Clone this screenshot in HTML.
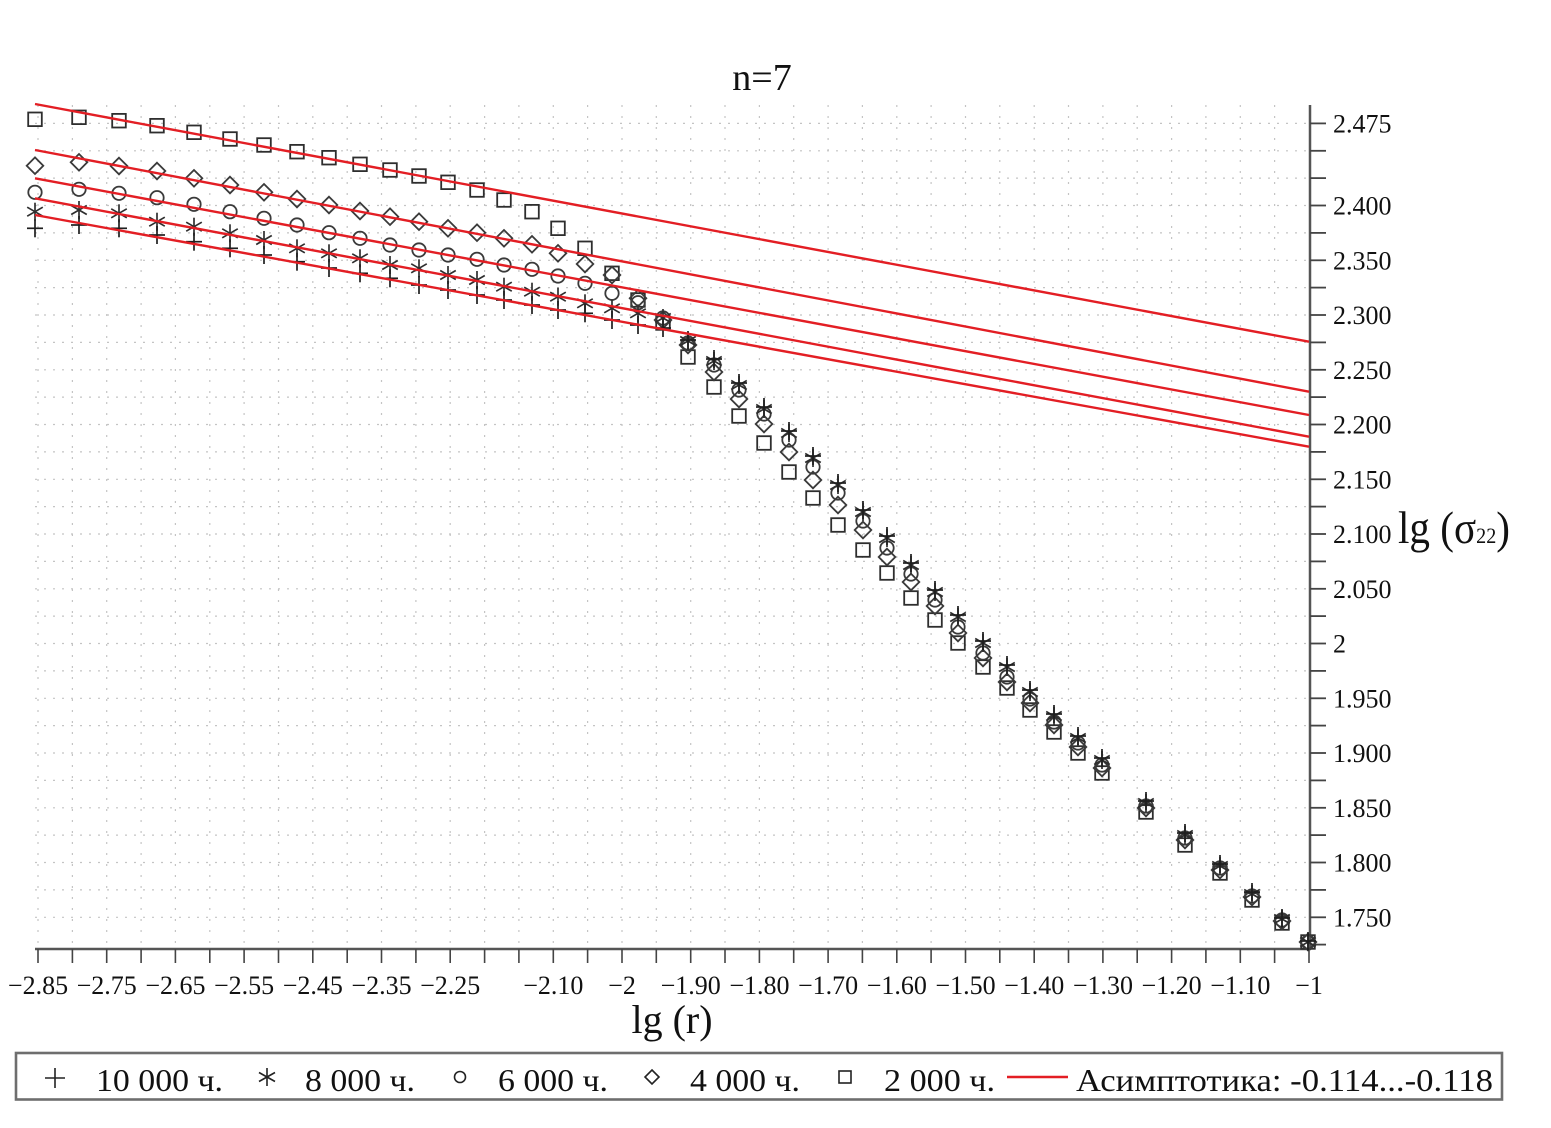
<!DOCTYPE html>
<html>
<head>
<meta charset="utf-8">
<style>
html,body{margin:0;padding:0;background:#fff;}
svg{display:block;font-family:"Liberation Serif","Noto Serif CJK SC",serif;}
text{font-family:"Liberation Serif","Noto Serif CJK SC",serif;fill:#111;}
</style>
</head>
<body>
<svg width="1551" height="1128" viewBox="0 0 1551 1128" xmlns="http://www.w3.org/2000/svg" font-family="Liberation Serif, serif">
<defs>
  <g id="sq"><rect x="-6.8" y="-6.8" width="13.6" height="13.6" fill="none" stroke="#2e2e2e" stroke-width="1.8"/></g>
  <g id="di"><path d="M0,-8.3 L8.3,0 L0,8.3 L-8.3,0 Z" fill="none" stroke="#3a3a3a" stroke-width="1.8"/></g>
  <g id="ci"><circle r="6.7" fill="none" stroke="#3a3a3a" stroke-width="1.8"/></g>
  <g id="st" stroke="#2e2e2e" stroke-width="1.7"><line x1="0" y1="-9" x2="0" y2="9"/><line x1="-7.8" y1="-4.5" x2="7.8" y2="4.5"/><line x1="-7.8" y1="4.5" x2="7.8" y2="-4.5"/></g>
  <g id="pl" stroke="#1e1e1e" stroke-width="1.7"><line x1="0" y1="-9" x2="0" y2="9"/><line x1="-8" y1="0" x2="8" y2="0"/></g>
</defs>

<!-- grid -->
<g stroke="#c4c4c4" stroke-width="1.2" stroke-dasharray="2,9">
<line x1="38" y1="105" x2="38" y2="949"/><line x1="72.4" y1="105" x2="72.4" y2="949"/><line x1="106.7" y1="105" x2="106.7" y2="949"/><line x1="141.1" y1="105" x2="141.1" y2="949"/><line x1="175.4" y1="105" x2="175.4" y2="949"/><line x1="209.8" y1="105" x2="209.8" y2="949"/><line x1="244.1" y1="105" x2="244.1" y2="949"/><line x1="278.5" y1="105" x2="278.5" y2="949"/><line x1="312.8" y1="105" x2="312.8" y2="949"/><line x1="347.2" y1="105" x2="347.2" y2="949"/><line x1="381.5" y1="105" x2="381.5" y2="949"/><line x1="415.9" y1="105" x2="415.9" y2="949"/><line x1="450.2" y1="105" x2="450.2" y2="949"/><line x1="484.6" y1="105" x2="484.6" y2="949"/><line x1="518.9" y1="105" x2="518.9" y2="949"/><line x1="553.3" y1="105" x2="553.3" y2="949"/><line x1="587.6" y1="105" x2="587.6" y2="949"/><line x1="622" y1="105" x2="622" y2="949"/><line x1="656.3" y1="105" x2="656.3" y2="949"/><line x1="690.7" y1="105" x2="690.7" y2="949"/><line x1="725" y1="105" x2="725" y2="949"/><line x1="759.4" y1="105" x2="759.4" y2="949"/><line x1="793.7" y1="105" x2="793.7" y2="949"/><line x1="828.1" y1="105" x2="828.1" y2="949"/><line x1="862.4" y1="105" x2="862.4" y2="949"/><line x1="896.8" y1="105" x2="896.8" y2="949"/><line x1="931.1" y1="105" x2="931.1" y2="949"/><line x1="965.5" y1="105" x2="965.5" y2="949"/><line x1="999.8" y1="105" x2="999.8" y2="949"/><line x1="1034.2" y1="105" x2="1034.2" y2="949"/><line x1="1068.5" y1="105" x2="1068.5" y2="949"/><line x1="1102.9" y1="105" x2="1102.9" y2="949"/><line x1="1137.2" y1="105" x2="1137.2" y2="949"/><line x1="1171.6" y1="105" x2="1171.6" y2="949"/><line x1="1205.9" y1="105" x2="1205.9" y2="949"/><line x1="1240.3" y1="105" x2="1240.3" y2="949"/><line x1="1274.6" y1="105" x2="1274.6" y2="949"/>
</g>
<g stroke="#c4c4c4" stroke-width="1.2" stroke-dasharray="2,7">
<line x1="35" y1="123.4" x2="1310" y2="123.4"/><line x1="35" y1="150.8" x2="1310" y2="150.8"/><line x1="35" y1="178.1" x2="1310" y2="178.1"/><line x1="35" y1="205.5" x2="1310" y2="205.5"/><line x1="35" y1="232.9" x2="1310" y2="232.9"/><line x1="35" y1="260.3" x2="1310" y2="260.3"/><line x1="35" y1="287.6" x2="1310" y2="287.6"/><line x1="35" y1="315" x2="1310" y2="315"/><line x1="35" y1="342.4" x2="1310" y2="342.4"/><line x1="35" y1="369.8" x2="1310" y2="369.8"/><line x1="35" y1="397.1" x2="1310" y2="397.1"/><line x1="35" y1="424.5" x2="1310" y2="424.5"/><line x1="35" y1="451.9" x2="1310" y2="451.9"/><line x1="35" y1="479.3" x2="1310" y2="479.3"/><line x1="35" y1="506.6" x2="1310" y2="506.6"/><line x1="35" y1="534" x2="1310" y2="534"/><line x1="35" y1="561.4" x2="1310" y2="561.4"/><line x1="35" y1="588.8" x2="1310" y2="588.8"/><line x1="35" y1="616.1" x2="1310" y2="616.1"/><line x1="35" y1="643.5" x2="1310" y2="643.5"/><line x1="35" y1="670.9" x2="1310" y2="670.9"/><line x1="35" y1="698.3" x2="1310" y2="698.3"/><line x1="35" y1="725.6" x2="1310" y2="725.6"/><line x1="35" y1="753" x2="1310" y2="753"/><line x1="35" y1="780.4" x2="1310" y2="780.4"/><line x1="35" y1="807.8" x2="1310" y2="807.8"/><line x1="35" y1="835.1" x2="1310" y2="835.1"/><line x1="35" y1="862.5" x2="1310" y2="862.5"/><line x1="35" y1="889.9" x2="1310" y2="889.9"/><line x1="35" y1="917.3" x2="1310" y2="917.3"/>
</g>

<!-- axes -->
<g stroke="#555" stroke-width="2.5">
<line x1="35" y1="949" x2="1311" y2="949"/>
<line x1="1310" y1="105" x2="1310" y2="950"/>
</g>
<g stroke="#444" stroke-width="1.6">
<line x1="38" y1="949" x2="38" y2="963"/><line x1="72.4" y1="949" x2="72.4" y2="963"/><line x1="106.7" y1="949" x2="106.7" y2="963"/><line x1="141.1" y1="949" x2="141.1" y2="963"/><line x1="175.4" y1="949" x2="175.4" y2="963"/><line x1="209.8" y1="949" x2="209.8" y2="963"/><line x1="244.1" y1="949" x2="244.1" y2="963"/><line x1="278.5" y1="949" x2="278.5" y2="963"/><line x1="312.8" y1="949" x2="312.8" y2="963"/><line x1="347.2" y1="949" x2="347.2" y2="963"/><line x1="381.5" y1="949" x2="381.5" y2="963"/><line x1="415.9" y1="949" x2="415.9" y2="963"/><line x1="450.2" y1="949" x2="450.2" y2="963"/><line x1="484.6" y1="949" x2="484.6" y2="963"/><line x1="518.9" y1="949" x2="518.9" y2="963"/><line x1="553.3" y1="949" x2="553.3" y2="963"/><line x1="587.6" y1="949" x2="587.6" y2="963"/><line x1="622" y1="949" x2="622" y2="963"/><line x1="656.3" y1="949" x2="656.3" y2="963"/><line x1="690.7" y1="949" x2="690.7" y2="963"/><line x1="725" y1="949" x2="725" y2="963"/><line x1="759.4" y1="949" x2="759.4" y2="963"/><line x1="793.7" y1="949" x2="793.7" y2="963"/><line x1="828.1" y1="949" x2="828.1" y2="963"/><line x1="862.4" y1="949" x2="862.4" y2="963"/><line x1="896.8" y1="949" x2="896.8" y2="963"/><line x1="931.1" y1="949" x2="931.1" y2="963"/><line x1="965.5" y1="949" x2="965.5" y2="963"/><line x1="999.8" y1="949" x2="999.8" y2="963"/><line x1="1034.2" y1="949" x2="1034.2" y2="963"/><line x1="1068.5" y1="949" x2="1068.5" y2="963"/><line x1="1102.9" y1="949" x2="1102.9" y2="963"/><line x1="1137.2" y1="949" x2="1137.2" y2="963"/><line x1="1171.6" y1="949" x2="1171.6" y2="963"/><line x1="1205.9" y1="949" x2="1205.9" y2="963"/><line x1="1240.3" y1="949" x2="1240.3" y2="963"/><line x1="1274.6" y1="949" x2="1274.6" y2="963"/><line x1="1309" y1="949" x2="1309" y2="963"/>
</g>
<g stroke="#444" stroke-width="1.8">
<line x1="1310" y1="123.4" x2="1326" y2="123.4"/><line x1="1310" y1="150.8" x2="1326" y2="150.8"/><line x1="1310" y1="178.1" x2="1326" y2="178.1"/><line x1="1310" y1="205.5" x2="1326" y2="205.5"/><line x1="1310" y1="232.9" x2="1326" y2="232.9"/><line x1="1310" y1="260.3" x2="1326" y2="260.3"/><line x1="1310" y1="287.6" x2="1326" y2="287.6"/><line x1="1310" y1="315" x2="1326" y2="315"/><line x1="1310" y1="342.4" x2="1326" y2="342.4"/><line x1="1310" y1="369.8" x2="1326" y2="369.8"/><line x1="1310" y1="397.1" x2="1326" y2="397.1"/><line x1="1310" y1="424.5" x2="1326" y2="424.5"/><line x1="1310" y1="451.9" x2="1326" y2="451.9"/><line x1="1310" y1="479.3" x2="1326" y2="479.3"/><line x1="1310" y1="506.6" x2="1326" y2="506.6"/><line x1="1310" y1="534" x2="1326" y2="534"/><line x1="1310" y1="561.4" x2="1326" y2="561.4"/><line x1="1310" y1="588.8" x2="1326" y2="588.8"/><line x1="1310" y1="616.1" x2="1326" y2="616.1"/><line x1="1310" y1="643.5" x2="1326" y2="643.5"/><line x1="1310" y1="670.9" x2="1326" y2="670.9"/><line x1="1310" y1="698.3" x2="1326" y2="698.3"/><line x1="1310" y1="725.6" x2="1326" y2="725.6"/><line x1="1310" y1="753" x2="1326" y2="753"/><line x1="1310" y1="780.4" x2="1326" y2="780.4"/><line x1="1310" y1="807.8" x2="1326" y2="807.8"/><line x1="1310" y1="835.1" x2="1326" y2="835.1"/><line x1="1310" y1="862.5" x2="1326" y2="862.5"/><line x1="1310" y1="889.9" x2="1326" y2="889.9"/><line x1="1310" y1="917.3" x2="1326" y2="917.3"/><line x1="1310" y1="944.6" x2="1326" y2="944.6"/>
</g>

<!-- y tick labels -->
<g font-size="26" font-family="Liberation Serif, serif">
<text x="1333" y="132.4">2.475</text>
<text x="1333" y="214.5">2.400</text>
<text x="1333" y="269.3">2.350</text>
<text x="1333" y="324">2.300</text>
<text x="1333" y="378.8">2.250</text>
<text x="1333" y="433.5">2.200</text>
<text x="1333" y="488.3">2.150</text>
<text x="1333" y="543">2.100</text>
<text x="1333" y="597.8">2.050</text>
<text x="1333" y="652.5">2</text>
<text x="1333" y="707.3">1.950</text>
<text x="1333" y="762">1.900</text>
<text x="1333" y="816.8">1.850</text>
<text x="1333" y="871.5">1.800</text>
<text x="1333" y="926.3">1.750</text>
</g>

<!-- x tick labels -->
<g font-size="26" text-anchor="middle" font-family="Liberation Serif, serif">
<text x="38" y="994">−2.85</text>
<text x="106.7" y="994">−2.75</text>
<text x="175.4" y="994">−2.65</text>
<text x="244.1" y="994">−2.55</text>
<text x="312.8" y="994">−2.45</text>
<text x="381.5" y="994">−2.35</text>
<text x="450.2" y="994">−2.25</text>
<text x="553.3" y="994">−2.10</text>
<text x="622" y="994">−2</text>
<text x="690.7" y="994">−1.90</text>
<text x="759.4" y="994">−1.80</text>
<text x="828.1" y="994">−1.70</text>
<text x="896.8" y="994">−1.60</text>
<text x="965.5" y="994">−1.50</text>
<text x="1034.2" y="994">−1.40</text>
<text x="1102.9" y="994">−1.30</text>
<text x="1171.6" y="994">−1.20</text>
<text x="1240.3" y="994">−1.10</text>
<text x="1309" y="994">−1</text>
</g>

<!-- titles -->
<text x="762" y="90" font-size="38" text-anchor="middle" font-family="Liberation Serif, serif">n=7</text>
<text x="672" y="1033" font-size="40" text-anchor="middle" font-family="Liberation Serif, serif">lg (r)</text>
<text x="1398" y="543" font-size="45" textLength="112" lengthAdjust="spacingAndGlyphs" font-family="Liberation Serif, serif">lg (σ<tspan font-size="22">22</tspan>)</text>

<!-- markers: squares (2000) -->
<g>
<use href="#sq" x="35" y="119.3"/><use href="#sq" x="79" y="117.3"/><use href="#sq" x="119" y="120.7"/><use href="#sq" x="157" y="125.7"/><use href="#sq" x="194" y="132.3"/><use href="#sq" x="230" y="139"/><use href="#sq" x="264" y="145"/><use href="#sq" x="297" y="151.7"/><use href="#sq" x="329" y="157.7"/><use href="#sq" x="360" y="164.3"/><use href="#sq" x="390" y="170"/><use href="#sq" x="419" y="176"/><use href="#sq" x="448" y="182.3"/><use href="#sq" x="477" y="190"/><use href="#sq" x="504" y="200"/><use href="#sq" x="532" y="211.7"/><use href="#sq" x="558" y="228.3"/><use href="#sq" x="585" y="248.3"/><use href="#sq" x="612" y="273.3"/><use href="#sq" x="638" y="300"/><use href="#sq" x="663" y="323"/><use href="#sq" x="688" y="357"/><use href="#sq" x="714" y="387"/><use href="#sq" x="739" y="416"/><use href="#sq" x="764" y="443"/><use href="#sq" x="789" y="472"/><use href="#sq" x="813" y="498"/><use href="#sq" x="838" y="525"/><use href="#sq" x="863" y="550"/><use href="#sq" x="887" y="573"/><use href="#sq" x="911" y="598"/><use href="#sq" x="935" y="620"/><use href="#sq" x="958" y="643"/><use href="#sq" x="983" y="667"/><use href="#sq" x="1007" y="688"/><use href="#sq" x="1030" y="710"/><use href="#sq" x="1054" y="732"/><use href="#sq" x="1078" y="753"/><use href="#sq" x="1102" y="773"/><use href="#sq" x="1146" y="812"/><use href="#sq" x="1185" y="845"/><use href="#sq" x="1220" y="873"/><use href="#sq" x="1252" y="900"/><use href="#sq" x="1282" y="923"/><use href="#sq" x="1308" y="942"/>
</g>
<!-- diamonds (4000) -->
<g>
<use href="#di" x="35" y="165.7"/><use href="#di" x="79" y="162.3"/><use href="#di" x="119" y="166"/><use href="#di" x="157" y="171"/><use href="#di" x="194" y="178.3"/><use href="#di" x="230" y="185"/><use href="#di" x="264" y="192.3"/><use href="#di" x="297" y="199"/><use href="#di" x="329" y="205"/><use href="#di" x="360" y="211"/><use href="#di" x="390" y="216.7"/><use href="#di" x="419" y="221.7"/><use href="#di" x="448" y="228.3"/><use href="#di" x="477" y="232.7"/><use href="#di" x="504" y="238.3"/><use href="#di" x="532" y="244.3"/><use href="#di" x="558" y="253.3"/><use href="#di" x="585" y="264"/><use href="#di" x="612" y="275"/><use href="#di" x="638" y="298.3"/><use href="#di" x="663" y="320"/><use href="#di" x="688" y="345"/><use href="#di" x="714" y="372"/><use href="#di" x="739" y="399"/><use href="#di" x="764" y="424"/><use href="#di" x="789" y="452"/><use href="#di" x="813" y="480"/><use href="#di" x="838" y="505"/><use href="#di" x="863" y="530"/><use href="#di" x="887" y="557"/><use href="#di" x="911" y="582"/><use href="#di" x="935" y="606"/><use href="#di" x="958" y="633"/><use href="#di" x="983" y="658"/><use href="#di" x="1007" y="682"/><use href="#di" x="1030" y="703"/><use href="#di" x="1054" y="725"/><use href="#di" x="1078" y="747"/><use href="#di" x="1102" y="768"/><use href="#di" x="1146" y="808"/><use href="#di" x="1185" y="840"/><use href="#di" x="1220" y="870"/><use href="#di" x="1252" y="897"/><use href="#di" x="1282" y="921"/><use href="#di" x="1308" y="942"/>
</g>
<!-- circles (6000) -->
<g>
<use href="#ci" x="35" y="192.3"/><use href="#ci" x="79" y="189.3"/><use href="#ci" x="119" y="193.3"/><use href="#ci" x="157" y="197.7"/><use href="#ci" x="194" y="204.3"/><use href="#ci" x="230" y="211.7"/><use href="#ci" x="264" y="218.3"/><use href="#ci" x="297" y="225"/><use href="#ci" x="329" y="232.7"/><use href="#ci" x="360" y="238.3"/><use href="#ci" x="390" y="245"/><use href="#ci" x="419" y="250"/><use href="#ci" x="448" y="255"/><use href="#ci" x="477" y="259.3"/><use href="#ci" x="504" y="265"/><use href="#ci" x="532" y="269.3"/><use href="#ci" x="558" y="276"/><use href="#ci" x="585" y="283.3"/><use href="#ci" x="612" y="293.3"/><use href="#ci" x="638" y="302.7"/><use href="#ci" x="663" y="318"/><use href="#ci" x="688" y="343"/><use href="#ci" x="714" y="365"/><use href="#ci" x="739" y="390"/><use href="#ci" x="764" y="414"/><use href="#ci" x="789" y="440"/><use href="#ci" x="813" y="467"/><use href="#ci" x="838" y="493"/><use href="#ci" x="863" y="521"/><use href="#ci" x="887" y="548"/><use href="#ci" x="911" y="574"/><use href="#ci" x="935" y="600"/><use href="#ci" x="958" y="627"/><use href="#ci" x="983" y="653"/><use href="#ci" x="1007" y="677"/><use href="#ci" x="1030" y="699"/><use href="#ci" x="1054" y="722"/><use href="#ci" x="1078" y="743"/><use href="#ci" x="1102" y="765"/><use href="#ci" x="1146" y="806"/><use href="#ci" x="1185" y="838"/><use href="#ci" x="1220" y="868"/><use href="#ci" x="1252" y="896"/><use href="#ci" x="1282" y="920"/><use href="#ci" x="1308" y="942"/>
</g>
<!-- stars (8000) -->
<g>
<use href="#st" x="35" y="211.7"/><use href="#st" x="79" y="210"/><use href="#st" x="119" y="213.3"/><use href="#st" x="157" y="221.7"/><use href="#st" x="194" y="226.7"/><use href="#st" x="230" y="233.3"/><use href="#st" x="264" y="240"/><use href="#st" x="297" y="248.3"/><use href="#st" x="329" y="253.3"/><use href="#st" x="360" y="258.3"/><use href="#st" x="390" y="265"/><use href="#st" x="419" y="268.3"/><use href="#st" x="448" y="275"/><use href="#st" x="477" y="280"/><use href="#st" x="504" y="286.7"/><use href="#st" x="532" y="291.7"/><use href="#st" x="558" y="296.7"/><use href="#st" x="585" y="303.3"/><use href="#st" x="612" y="308.3"/><use href="#st" x="638" y="313.3"/><use href="#st" x="663" y="318"/><use href="#st" x="688" y="341"/><use href="#st" x="714" y="361"/><use href="#st" x="739" y="385"/><use href="#st" x="764" y="409"/><use href="#st" x="789" y="433"/><use href="#st" x="813" y="458"/><use href="#st" x="838" y="485"/><use href="#st" x="863" y="512"/><use href="#st" x="887" y="538"/><use href="#st" x="911" y="565"/><use href="#st" x="935" y="592"/><use href="#st" x="958" y="617"/><use href="#st" x="983" y="643"/><use href="#st" x="1007" y="667"/><use href="#st" x="1030" y="692"/><use href="#st" x="1054" y="716"/><use href="#st" x="1078" y="738"/><use href="#st" x="1102" y="760"/><use href="#st" x="1146" y="803"/><use href="#st" x="1185" y="835"/><use href="#st" x="1220" y="866"/><use href="#st" x="1252" y="894"/><use href="#st" x="1282" y="919"/><use href="#st" x="1308" y="942"/>
</g>
<!-- pluses (10000) -->
<g>
<use href="#pl" x="35" y="228.3"/><use href="#pl" x="79" y="225"/><use href="#pl" x="119" y="228.3"/><use href="#pl" x="157" y="235"/><use href="#pl" x="194" y="241.7"/><use href="#pl" x="230" y="248.3"/><use href="#pl" x="264" y="255"/><use href="#pl" x="297" y="261.7"/><use href="#pl" x="329" y="268"/><use href="#pl" x="360" y="273.3"/><use href="#pl" x="390" y="278.3"/><use href="#pl" x="419" y="285"/><use href="#pl" x="448" y="290"/><use href="#pl" x="477" y="295"/><use href="#pl" x="504" y="300"/><use href="#pl" x="532" y="305"/><use href="#pl" x="558" y="310"/><use href="#pl" x="585" y="313.3"/><use href="#pl" x="612" y="320"/><use href="#pl" x="638" y="325"/><use href="#pl" x="663" y="328"/><use href="#pl" x="688" y="340"/><use href="#pl" x="714" y="359"/><use href="#pl" x="739" y="383"/><use href="#pl" x="764" y="407"/><use href="#pl" x="789" y="431"/><use href="#pl" x="813" y="456"/><use href="#pl" x="838" y="483"/><use href="#pl" x="863" y="510"/><use href="#pl" x="887" y="536"/><use href="#pl" x="911" y="563"/><use href="#pl" x="935" y="590"/><use href="#pl" x="958" y="615"/><use href="#pl" x="983" y="641"/><use href="#pl" x="1007" y="665"/><use href="#pl" x="1030" y="690"/><use href="#pl" x="1054" y="714"/><use href="#pl" x="1078" y="736"/><use href="#pl" x="1102" y="758"/><use href="#pl" x="1146" y="801"/><use href="#pl" x="1185" y="833"/><use href="#pl" x="1220" y="864"/><use href="#pl" x="1252" y="892"/><use href="#pl" x="1282" y="918"/><use href="#pl" x="1308" y="941"/>
</g>

<!-- asymptotes -->
<g stroke="#e31e24" stroke-width="2.4">
<line x1="35" y1="104" x2="1309" y2="341.7"/>
<line x1="35" y1="150" x2="1309" y2="391.7"/>
<line x1="35" y1="178.3" x2="1309" y2="415"/>
<line x1="35" y1="198.3" x2="1309" y2="436.7"/>
<line x1="35" y1="215" x2="1309" y2="446.7"/>
</g>

<!-- legend -->
<rect x="16" y="1053" width="1486" height="46.5" fill="#fff" stroke="#6e6e6e" stroke-width="2.6"/>
<g stroke="#222" stroke-width="1.6" fill="none">
<line x1="55" y1="1068" x2="55" y2="1088"/><line x1="45" y1="1078" x2="65" y2="1078"/>
<line x1="267" y1="1068" x2="267" y2="1086"/><line x1="259" y1="1072.5" x2="275" y2="1081.5"/><line x1="259" y1="1081.5" x2="275" y2="1072.5"/>
<circle cx="460" cy="1077" r="5.5"/>
<path d="M652,1070 L659,1077 L652,1084 L645,1077 Z"/>
<rect x="839" y="1071" width="12" height="12"/>
</g>
<line x1="1007" y1="1077" x2="1068" y2="1077" stroke="#e31e24" stroke-width="2.6"/>
<g font-size="32" font-family="Liberation Serif, serif">
<text x="96" y="1091" textLength="127" lengthAdjust="spacingAndGlyphs">10 000 ч.</text>
<text x="305" y="1091" textLength="110" lengthAdjust="spacingAndGlyphs">8 000 ч.</text>
<text x="498" y="1091" textLength="110" lengthAdjust="spacingAndGlyphs">6 000 ч.</text>
<text x="690" y="1091" textLength="110" lengthAdjust="spacingAndGlyphs">4 000 ч.</text>
<text x="884" y="1091" textLength="111" lengthAdjust="spacingAndGlyphs">2 000 ч.</text>
<text x="1076" y="1091" textLength="417" lengthAdjust="spacingAndGlyphs">Асимптотика: -0.114...-0.118</text>
</g>
</svg>
</body>
</html>
